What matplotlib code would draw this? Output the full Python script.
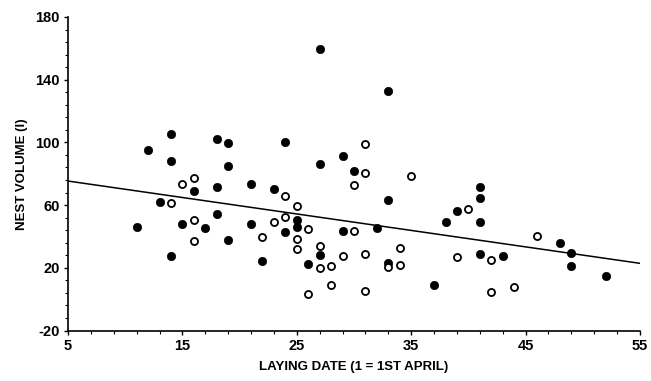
import matplotlib
matplotlib.use("Agg")
import matplotlib.pyplot as plt
import numpy as np
from matplotlib.ticker import FixedLocator

# Filled circles
filled_x = [11, 12, 13, 14, 14, 14, 15, 16, 17, 18, 18, 18, 19, 19, 19, 21, 21, 22, 23,
            24, 24, 25, 25, 26, 27, 27, 27, 29, 29, 30, 32, 33, 33, 33, 37, 38, 39, 41,
            41, 41, 41, 43, 48, 49, 49, 52]
filled_y = [46, 95, 62, 105.2, 88.3, 27.7, 47.8, 69, 45.2, 102, 71.5, 54.5, 99.8, 85.1, 37.5,
            73.5, 47.8, 24.3, 70.3, 100.3, 42.8, 50.3, 45.8, 22.2, 159.6, 86.2, 28, 91.5,
            43.5, 82, 45.6, 133, 63.3, 23, 9, 49.4, 56, 71.7, 64.7, 49, 28.6, 27.3, 35.8,
            29.4, 20.9, 14.9]

# Open circles
open_x = [14, 15, 16, 16, 16, 22, 23, 24, 24, 25, 25, 25, 26, 26, 27, 27, 28, 28, 29, 30,
          30, 31, 31, 31, 31, 34, 33, 34, 35, 39, 40, 42, 42, 44, 46]
open_y = [61.3, 73.4, 77, 50.3, 37.3, 39.9, 49.2, 65.6, 52.2, 59.6, 38.2, 31.8, 44.6, 3.3,
          33.7, 19.7, 21.3, 8.8, 27.3, 72.6, 43.7, 99.2, 80.7, 28.6, 5, 32.6, 20.5, 21.6,
          78.8, 26.7, 57.7, 24.8, 4.8, 7.7, 40.3]

# Regression line
line_intercept = 80.6
line_slope = -1.05
line_x = [5, 55]

x_ticks = [5, 15, 25, 35, 45, 55]
y_ticks = [-20, 20, 60, 100, 140, 180]

plt.rcParams['font.family'] = ['Liberation Sans', 'DejaVu Sans']
plt.rcParams['axes.unicode_minus'] = False

fig = plt.figure(figsize=(6.51, 3.81), dpi=100)
ax = fig.add_axes([68/651, 50.5/381, 572/651, 313.5/381])

lx = np.array(line_x, dtype=float)
ax.plot(lx, line_intercept + line_slope * lx, color='black', lw=1.1, zorder=1)

ax.scatter(filled_x, filled_y, s=36, facecolor='black', edgecolor='black', lw=0.5, zorder=3)
ax.scatter(open_x, open_y, s=26, facecolor='white', edgecolor='black', lw=1.3, zorder=3)

ax.set_xlim(5, 55)
ax.set_ylim(-20, 180)
ax.set_xticks(x_ticks)
ax.set_yticks(y_ticks)
ax.xaxis.set_minor_locator(FixedLocator(np.arange(5, 56, 2)))
ax.yaxis.set_minor_locator(FixedLocator(np.arange(-20, 181, 8)))

for s in ['top', 'right']:
    ax.spines[s].set_visible(False)
for s in ['left', 'bottom']:
    ax.spines[s].set_linewidth(1.2)

ax.tick_params(axis='both', which='major', direction='out', length=3, width=1,
               labelsize=10.5, pad=3)
ax.tick_params(axis='both', which='minor', direction='out', length=2, width=0.8)
for lab in ax.get_xticklabels() + ax.get_yticklabels():
    lab.set_fontweight('bold')

ax.set_xlabel('LAYING DATE (1 = 1ST APRIL)', fontsize=9.5, fontweight='bold', labelpad=6)
ax.set_ylabel('NEST VOLUME (l)', fontsize=9.5, fontweight='bold', labelpad=5)

fig.savefig('out.png', dpi=100)
